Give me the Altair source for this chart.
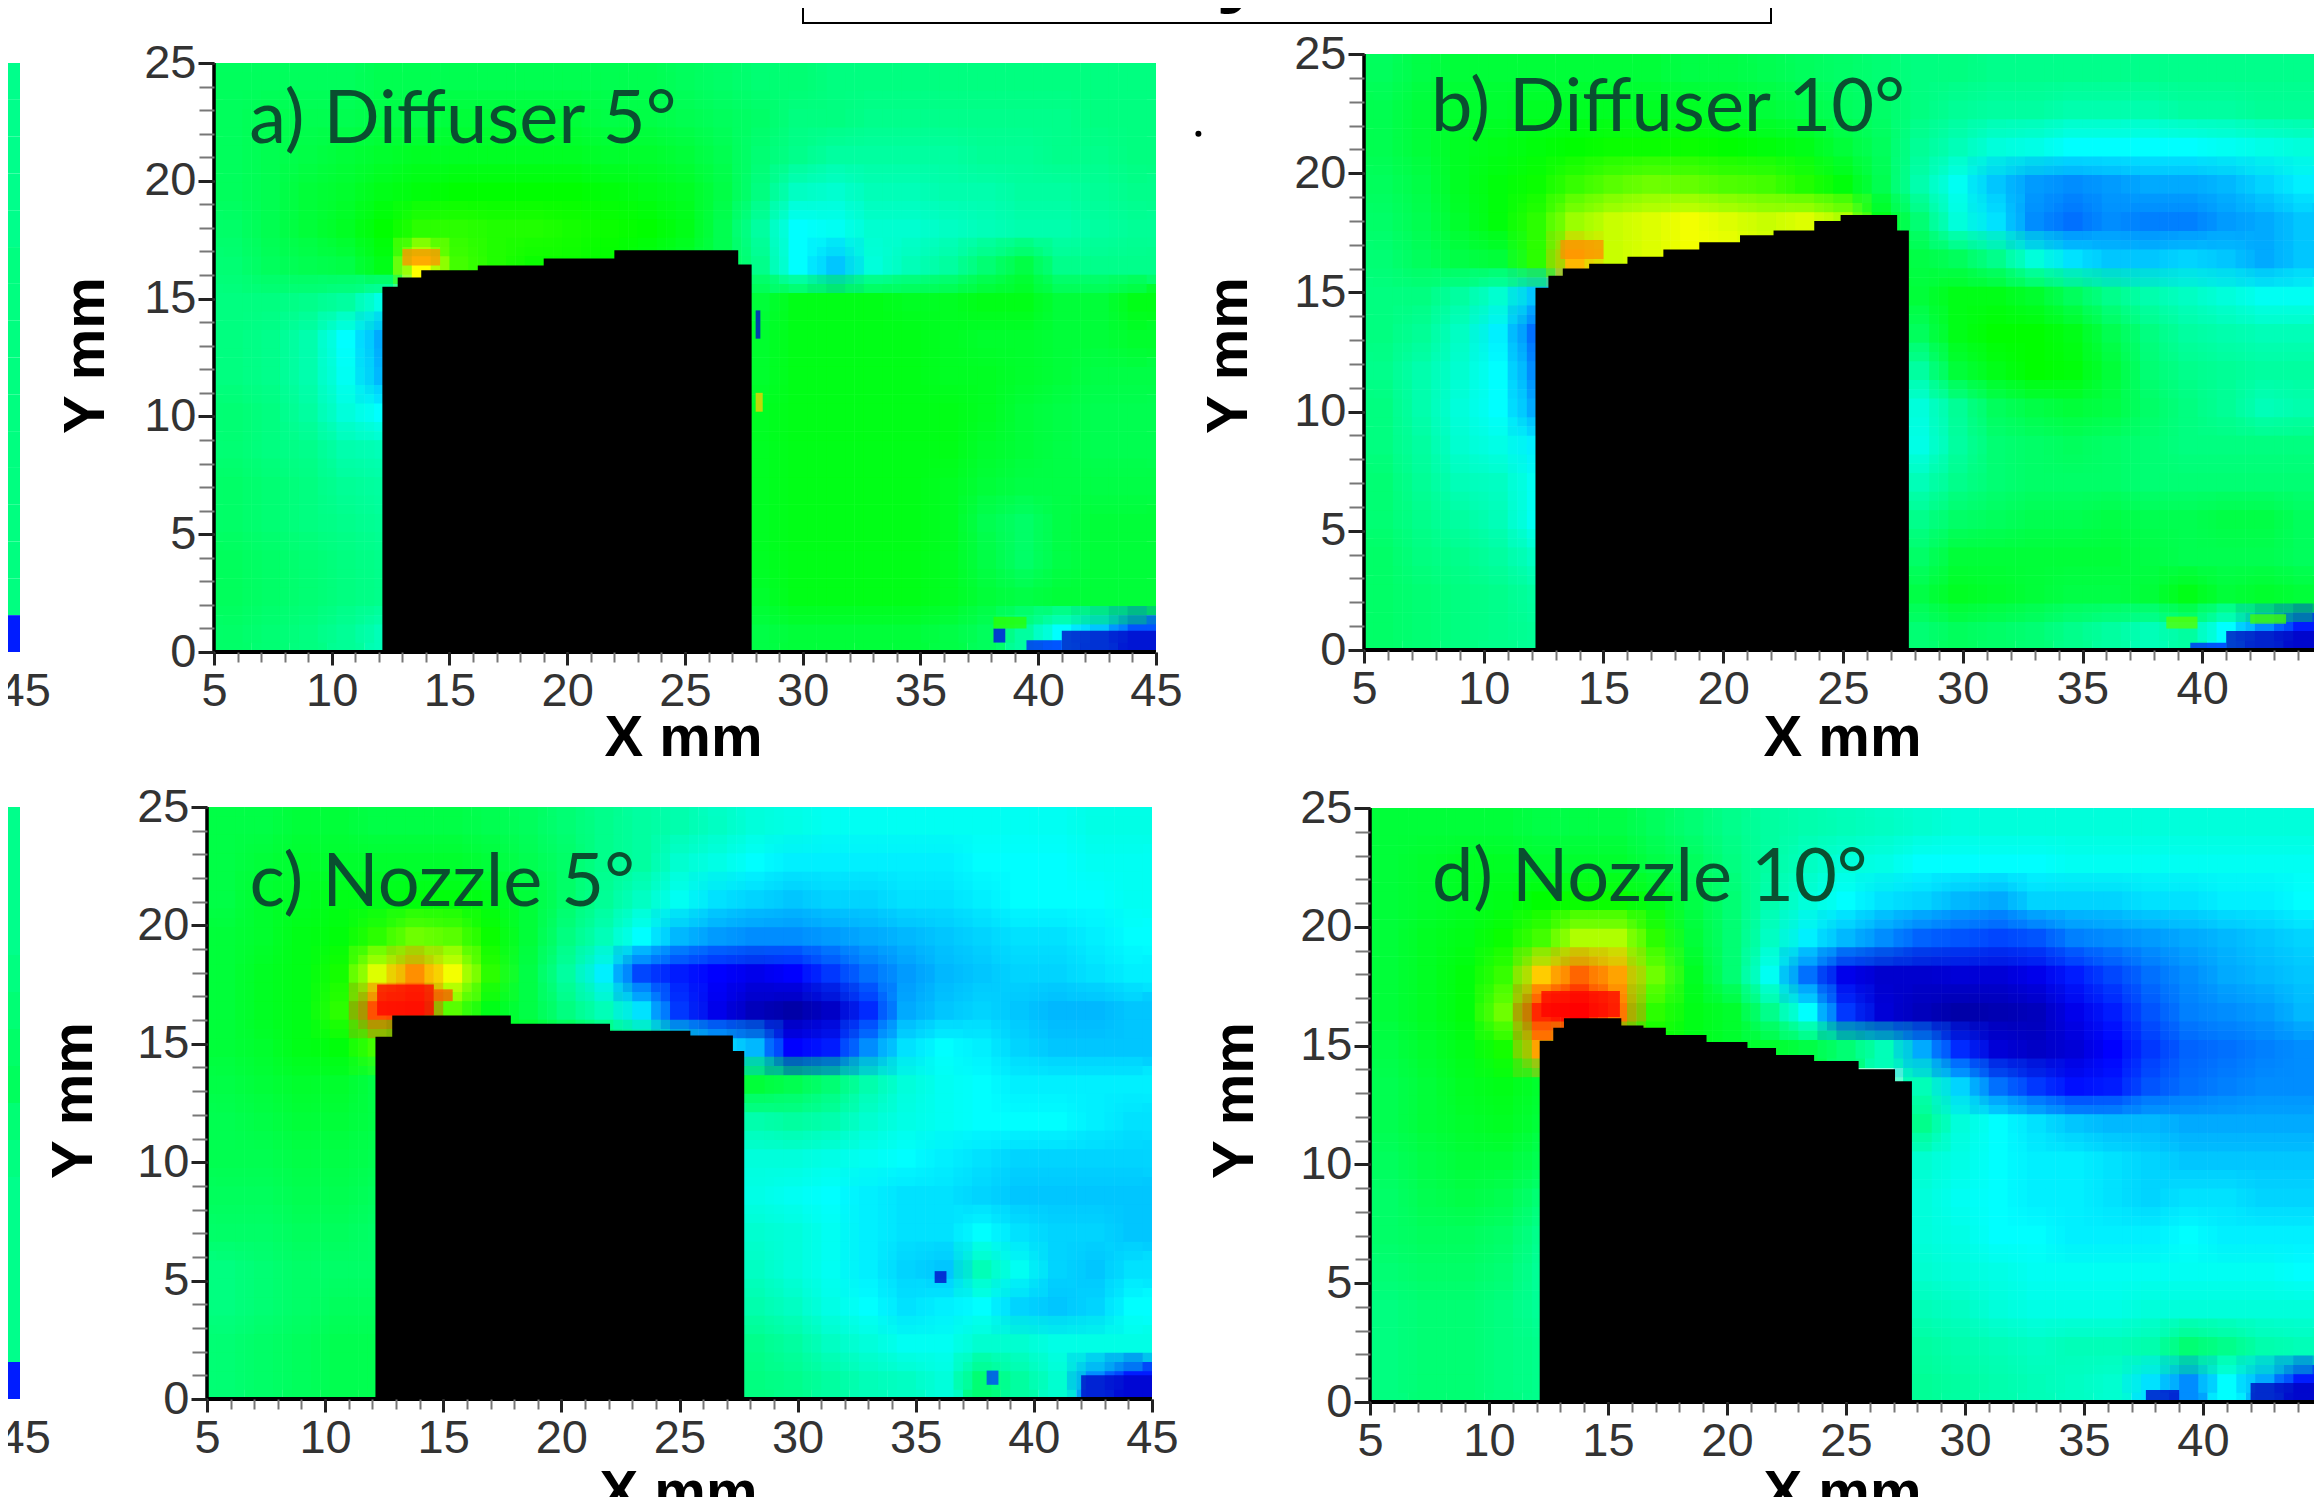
import altair as alt
import pandas as pd

W, H = 2306, 1489
STEP_X, STEP_Y = 1.6, 25 / 16
X_MAJOR = list(range(5, 46, 5))
X_MINOR = list(range(5, 46))
Y_MAJOR = list(range(0, 26, 5))
Y_MINOR = list(range(0, 26))
STOPS = [0, 12, 30, 52, 75, 100]
COLORS = ["#00008c", "#0000ff", "#00ffff", "#00ff00", "#ffff00", "#ff0000"]
B9 = [None] * 9
B5 = [None] * 5

GRID_A = [
 [44,44,44,44,45,45,45,45,45,45,45,45,44,43,42,42,41,41,41,41,41,41,41,41,41],
 [44,45,45,45,46,46,47,47,47,47,46,46,45,44,43,41,41,40,40,40,40,40,40,41,41],
 [44,45,46,47,48,49,49,49,49,49,48,48,47,45,42,40,38,38,38,38,39,39,40,40,41],
 [44,45,47,48,50,51,52,52,52,52,51,50,49,46,41,35,34,36,36,37,37,38,38,39,40],
 [43,45,47,49,52,56,56,55,55,54,53,52,50,45,38,30,31,34,34,35,36,37,37,38,39],
 [42,44,45,46,50,75,58,55,53,53,52,50,48,45,40,30,26,33,36,38,42,46,40,40,40],
 [41,41,40,38,32]+B9+[47,50,50,50,49,49,50,50,47,47,50],
 [41,40,37,30,24]+B9+[48,50,50,50,50,49,48,48,47,47,48],
 [41,40,37,31,25]+B9+[48,50,50,50,50,49,49,48,47,46,46],
 [42,41,38,33,30]+B9+[49,50,50,50,50,50,49,47,46,45,45],
 [42,41,40,37,36]+B9+[49,50,50,50,50,50,48,47,46,45,45],
 [43,42,41,39,38]+B9+[49,50,50,50,50,49,47,46,46,46,46],
 [43,42,41,40,39]+B9+[49,50,50,50,50,49,45,43,46,47,47],
 [44,43,42,41,40]+B9+[49,50,50,50,50,49,46,43,46,47,47],
 [44,43,42,41,40]+B9+[48,50,50,50,50,49,47,46,47,47,47],
 [43,42,41,39,36]+B9+[46,47,47,47,47,46,44,38,30,26,18],
]
GRID_B = [
 [44,46,47,47,47,47,47,47,46,46,45,44,43,42,41,41,40,40,40,40,40,40,40,40,40],
 [45,47,48,48,49,49,49,49,49,48,47,46,44,43,41,39,38,38,37,37,37,38,38,39,39],
 [45,47,49,50,51,52,53,53,53,52,51,50,47,44,39,36,33,32,30,30,30,30,31,32,33],
 [44,46,49,51,53,57,60,62,61,59,58,55,51,45,37,31,26,23,22,23,24,24,25,27,29],
 [43,45,48,51,56,66,70,72,74,72,70,72,68,50,42,33,28,22,20,22,21,21,23,24,26],
 [42,44,46,47,56,82,70,72,74,74,72,70,62,50,46,44,40,33,28,26,26,27,26,24,26],
 [41,41,38,34,26]+B9+[47,50,50,48,44,40,37,35,33,31,31],
 [41,39,35,29,20]+B9+[44,50,52,52,50,45,41,38,37,36,36],
 [40,37,34,30,22]+B9+[38,47,50,52,51,47,42,40,39,38,38],
 [41,37,33,30,24]+B9+[33,39,44,46,47,46,43,41,39,36,37],
 [41,38,34,32,29]+B9+[32,38,42,43,44,43,42,41,41,41,41],
 [42,39,36,35,31]+B9+[36,40,42,43,43,43,42,42,42,42,42],
 [42,40,38,36,31]+B9+[40,43,44,45,45,46,45,45,46,46,44],
 [43,41,40,38,35]+B9+[43,47,47,47,47,47,46,45,45,45,44],
 [43,42,41,40,38]+B9+[46,49,48,47,46,46,47,50,47,48,47],
 [43,42,41,40,39]+B9+[42,44,43,42,40,38,36,38,30,22,14],
]
GRID_C = [
 [46,46,47,47,46,46,46,45,44,42,40,38,37,35,33,32,31,31,31,31,31,31,31,32,32],
 [46,47,48,48,48,48,48,47,45,43,40,38,34,32,30,29,29,29,29,29,30,30,30,31,31],
 [46,48,49,50,50,51,51,50,47,43,39,35,31,28,27,26,27,27,28,28,29,30,30,30,31],
 [47,48,50,51,56,62,60,53,47,41,36,30,25,23,22,22,23,24,25,26,27,28,28,29,30],
 [47,49,50,54,72,86,74,56,46,38,29,17,14,12,10,12,16,20,23,25,26,27,27,28,29],
 [47,49,50,56,92,94,60,50,46,41,36,28,16,10,5,3,6,15,24,26,27,26,25,25,26],
 [47,48,50,51,58,52,52,50,50,48,45,40,34,28,25,12,14,22,28,30,29,27,26,26,26],
 [46,47,48,48,46]+B9+[47,45,42,37,33,31,30,29,29,29,29],
 [45,46,47,47,46]+B9+[37,38,37,34,32,31,30,30,30,29,28],
 [45,45,46,46,45]+B9+[33,33,32,31,30,29,28,27,27,27,27],
 [44,44,45,45,44]+B9+[32,31,30,29,28,28,27,26,26,26,26],
 [43,43,44,44,43]+B9+[34,33,31,29,28,28,30,28,27,27,26],
 [41,42,43,43,43]+B9+[35,33,31,29,27,26,36,31,27,26,28],
 [41,42,43,44,44]+B9+[37,35,32,30,28,29,30,27,26,27,30],
 [42,43,44,45,45]+B9+[40,38,35,33,31,31,34,34,32,32,32],
 [42,43,44,45,45]+B9+[41,40,38,36,35,33,42,38,34,22,14],
]
GRID_D = [
 [47,47,47,47,46,46,46,44,42,40,38,37,36,35,34,33,33,33,33,33,33,33,33,33,33],
 [47,48,49,49,48,48,48,46,44,41,38,35,33,32,30,30,30,30,31,31,31,31,31,31,31],
 [47,48,49,50,52,53,53,50,46,42,37,33,30,28,27,25,24,27,27,27,28,28,29,29,30],
 [47,49,50,53,58,68,68,56,47,42,35,29,25,22,19,18,17,18,21,22,23,24,25,26,27],
 [47,49,51,57,80,90,84,62,49,42,31,20,10,7,7,8,8,10,14,17,20,22,24,25,26],
 [47,49,51,62,96,100,88,56,50,48,40,30,16,8,5,3,4,5,10,14,18,21,22,23,25],
 [46,48,50,54,84,70,56,52,50,48,48,46,42,36,24,15,8,6,8,12,16,19,20,21,22],
 [45,47,49,50,48]+B9+[36,27,20,16,13,14,18,20,21,22,22],
 [45,47,48,49,47]+B9+[40,33,30,28,26,25,25,24,24,24,24],
 [44,46,47,47,45]+B9+[34,32,30,29,29,28,27,26,26,26,26],
 [43,45,46,45,42]+B9+[33,31,30,29,29,28,27,28,28,27,27],
 [43,44,44,43,40]+B9+[33,32,30,30,29,29,29,30,29,29,29],
 [42,43,43,42,39]+B9+[34,33,32,31,31,31,31,31,31,31,30],
 [41,42,42,41,39]+B9+[36,35,33,32,32,32,33,33,33,33,33],
 [41,42,42,41,40]+B9+[38,37,36,35,36,36,37,42,40,37,36],
 [41,42,42,41,40]+B9+[39,38,37,36,35,34,28,22,30,24,14],
]
STRIP_TOP = [40, 40, 40, 40, 40, 41, 41, 41, 41, 41, 41, 41, 41, 41, 41, 14]
STRIP_BOTTOM = [40, 40, 40, 40, 41, 42, 43, 44, 42, 41, 40, 40, 40, 40, 40, 14]

# body outline: step edges along x, then height of each step
BODY_A_X = [12.15, 12.8, 13.8, 16.2, 19.0, 22.0, 27.2, 27.83]
BODY_A_Y = [15.5, 15.9, 16.2, 16.4, 16.7, 17.05, 16.45]
BODY_B_X = [12.16, 12.7, 13.3, 14.4, 16.0, 17.5, 19.0, 20.7, 22.1, 23.8, 24.9, 27.2, 27.75]
BODY_B_Y = [15.2, 15.7, 16.0, 16.2, 16.5, 16.8, 17.1, 17.4, 17.6, 18.0, 18.25, 17.6]
BODY_C_X = [12.13, 12.84, 17.8, 22.0, 25.4, 27.2, 27.74]
BODY_C_Y = [15.3, 16.2, 15.85, 15.55, 15.35, 14.7]
BODY_D_X = [12.13, 12.7, 13.15, 15.5, 16.43, 17.37, 19.08, 20.8, 22.0, 23.6, 25.47, 27.0, 27.77]
BODY_D_Y = [15.2, 15.75, 16.15, 15.85, 15.75, 15.45, 15.15, 14.9, 14.6, 14.35, 14.0, 13.5]

# small details: x from, x to, y from, y to, value
SPOTS_A = [(13.0,14.6,16.4,17.1,86),(41,45,0,0.9,6),(39.5,41,0,0.5,14),(38.1,38.6,0.4,1.0,10),(38.1,39.5,1.0,1.5,56),(28,28.2,13.3,14.5,8),(28,28.3,10.2,11,80)]
SPOTS_B = [(13.2,15.0,16.4,17.2,86),(41,45,0,0.8,5),(39.5,41,0,0.3,14),(38.5,39.8,0.9,1.4,60),(42,43.5,1.1,1.5,58)]
SPOTS_C = [(12.2,14.6,16.2,17.5,100),(14.6,15.4,16.8,17.3,92),(35.8,36.3,4.9,5.4,6),(38,38.5,0.6,1.2,16),(42,45,0,1,6)]
SPOTS_D = [(12.2,15.5,16.2,17.3,100),(37.6,39,0,0.5,6),(42,45,0,0.8,5)]

TICK_COLOR = "#222222"
LABEL_COLOR = "#333333"
FONT = "Liberation Sans"
COLOR = alt.Color("v:Q", legend=None, scale=alt.Scale(domain=STOPS, range=COLORS, interpolate="rgb"))


def xscale(x5, x45):
    per = (x45 - x5) / 40
    d0 = 5 - (x5 - 8) / per
    return alt.Scale(domain=[d0, d0 + W / per], nice=False, zero=False)


def yscale(y0, y25):
    per = (y0 - y25) / 25
    lo = -(8 + H - y0) / per
    return alt.Scale(domain=[lo, lo + H / per], nice=False, zero=False)


def cells(grid, dx, dy):
    rows = []
    for r, row in enumerate(grid):
        for c, v in enumerate(row):
            if v is None:
                continue
            x0 = 5 + (c + dx) * STEP_X
            y1 = 25 - (r + dy) * STEP_Y
            rows.append(dict(x0=max(5, x0), x1=min(45, x0 + STEP_X),
                             y0=max(0, y1 - STEP_Y), y1=min(25, y1), v=v))
    return pd.DataFrame(rows)


def rect_layer(df, sx, sy, opacity=1.0, color=True):
    enc = dict(
        x=alt.X("x0:Q", scale=sx, axis=None), x2="x1:Q",
        y=alt.Y("y0:Q", scale=sy, axis=None), y2="y1:Q",
    )
    if color:
        enc["color"] = COLOR
    mark = alt.Chart(df).mark_rect(opacity=opacity) if color else alt.Chart(df).mark_rect(color="black")
    return mark.encode(**enc)


def field_layers(grid, sx, sy):
    out = [rect_layer(cells(grid, 0, 0), sx, sy)]
    for dx, dy, op in [(-.25, -.25, .5), (.25, -.25, .33), (-.25, .25, .25), (.25, .25, .2)]:
        out.append(rect_layer(cells(grid, dx, dy), sx, sy, op))
    return out


def panel(grid, body_x, body_y, spots, pos, label, label_pos, xtitle, ytitle):
    x5, x45, y0, y25 = pos
    sx, sy = xscale(x5, x45), yscale(y0, y25)
    layers = []
    spot_df = pd.DataFrame(spots, columns=["x0", "x1", "y0", "y1", "v"])
    layers.append(rect_layer(spot_df, sx, sy))
    for i, lay in enumerate(field_layers(grid, sx, sy)):
        layers.append(lay)
    layers.append(rect_layer(spot_df, sx, sy, 0.75))
    body = pd.DataFrame([dict(x0=body_x[i], x1=min(body_x[-1], body_x[i + 1] + .06), y0=0, y1=h) for i, h in enumerate(body_y)])
    layers.append(rect_layer(body, sx, sy, color=False))

    base = dict(orient="bottom", offset=y0 - 8 - H, domain=False, grid=False, zindex=1)
    base_y = dict(orient="left", offset=-(x5 - 8), domain=False, grid=False, zindex=1)
    minor_x = alt.Axis(values=X_MINOR, labels=False, title=None, tickSize=10, tickColor="#777777", tickWidth=2, **base)
    minor_y = alt.Axis(values=Y_MINOR, labels=False, title=None, tickSize=15, tickColor="#777777", tickWidth=2, **base_y)
    major_x = alt.Axis(values=X_MAJOR, format="d", tickSize=13, tickColor=TICK_COLOR, tickWidth=3,
                       labelFont=FONT, labelFontSize=47, labelColor=LABEL_COLOR, labelPadding=3,
                       labelOverlap=False, labelFlush=False, title="X mm", titleFont=FONT, titleFontSize=58,
                       titleFontWeight="bold", titleColor="black", titleAlign="center", titleBaseline="alphabetic",
                       titleX=xtitle[0] - 8, titleY=xtitle[1] - y0, **base)
    major_y = alt.Axis(values=Y_MAJOR, format="d", tickSize=16, tickColor=TICK_COLOR, tickWidth=3,
                       labelFont=FONT, labelFontSize=47, labelColor=LABEL_COLOR, labelPadding=2,
                       labelOverlap=False, labelFlush=False, title="Y mm", titleFont=FONT, titleFontSize=58,
                       titleFontWeight="bold", titleColor="black", titleAlign="center", titleBaseline="middle",
                       titleAngle=-90, titleX=ytitle[0] - x5, titleY=ytitle[1] - 8, **base_y)
    hline = pd.DataFrame({"x": [5], "x2": [45], "y": [0]})
    vline = pd.DataFrame({"x": [5], "y": [0], "y2": [25]})
    layers.append(alt.Chart(vline).mark_rule(color="black", strokeWidth=3.5).encode(
        x=alt.X("x:Q", scale=sx, axis=minor_x), y=alt.Y("y:Q", scale=sy, axis=minor_y), y2="y2:Q"))
    layers.append(alt.Chart(hline).mark_rule(color="black", strokeWidth=4).encode(
        x=alt.X("x:Q", scale=sx, axis=major_x), x2="x2:Q", y=alt.Y("y:Q", scale=sy, axis=major_y)))
    tdf = pd.DataFrame({"x": [label_pos[0]], "y": [label_pos[1]], "t": [label]})
    layers.append(alt.Chart(tdf).mark_text(font="Lato", fontSize=74, align="left", baseline="alphabetic",
                                           color="#0a4f30").encode(
        x=alt.X("x:Q", scale=sx, axis=None), y=alt.Y("y:Q", scale=sy, axis=None), text="t:N"))
    return layers


def strip(values, pos):
    x5, x45, y0, y25 = pos
    sx, sy = xscale(x5, x45), yscale(y0, y25)
    df = pd.DataFrame([dict(x0=44, x1=45, y1=25 - r * STEP_Y, y0=25 - (r + 1) * STEP_Y, v=v) for r, v in enumerate(values)])
    axis = alt.Axis(values=[45], format="d", orient="bottom", offset=y0 - 8 - H, domain=False, grid=False, ticks=False,
                    labelFont=FONT, labelFontSize=47, labelColor=LABEL_COLOR, labelPadding=16, labelAlign="left",
                    labelOffset=-22, title=None)
    return [alt.Chart(df).mark_rect().encode(x=alt.X("x0:Q", scale=sx, axis=axis), x2="x1:Q",
                                             y=alt.Y("y0:Q", scale=sy, axis=None), y2="y1:Q", color=COLOR)]


layers = []
layers += strip(STRIP_TOP, (-922, 20, 652, 63))
layers += strip(STRIP_BOTTOM, (-925, 20, 1399, 807))
layers += panel(GRID_A, BODY_A_X, BODY_A_Y, SPOTS_A, (214, 1156, 652, 63), "a) Diffuser 5°", (6.5, 21.6), (683, 755), (86, 355))
layers += panel(GRID_B, BODY_B_X, BODY_B_Y, SPOTS_B, (1364, 2322, 650, 54), "b) Diffuser 10°", (7.8, 21.75), (1842, 755), (1229, 355))
layers += panel(GRID_C, BODY_C_X, BODY_C_Y, SPOTS_C, (207, 1152, 1399, 807), "c) Nozzle 5°", (6.8, 20.8), (678, 1510), (74, 1100))
layers += panel(GRID_D, BODY_D_X, BODY_D_Y, SPOTS_D, (1370, 2322, 1402, 808), "d) Nozzle 10°", (7.6, 21.1), (1842, 1510), (1235, 1100))

# stray dot, frame of the clipped title box and the tail of its text
sa_x, sa_y = xscale(214, 1156), yscale(652, 63)
dot = pd.DataFrame({"x": [46.8], "y": [22.0]})
layers.append(alt.Chart(dot).mark_point(filled=True, color="black", size=36, opacity=1).encode(
    x=alt.X("x:Q", scale=sa_x, axis=None), y=alt.Y("y:Q", scale=sa_y, axis=None)))
layers.append(alt.Chart(pd.DataFrame({"a": [0]})).mark_rect(fillOpacity=0, stroke="black", strokeWidth=2).encode(
    x=alt.value(795), x2=alt.value(1763), y=alt.value(-20), y2=alt.value(15)))
layers.append(alt.Chart(pd.DataFrame({"t": ["y"]})).mark_text(font=FONT, fontWeight="bold", fontSize=90, align="center",
                                                               baseline="alphabetic", color="black").encode(
    x=alt.value(1233), y=alt.value(-13), text="t:N"))

chart = (
    alt.layer(*layers)
    .resolve_scale(x="independent", y="independent")
    .resolve_axis(x="independent", y="independent")
    .properties(width=W, height=H, padding=0, background="white",
                autosize=alt.AutoSizeParams(type="none"))
    .configure_view(stroke=None)
)
chart.save("out.html", embed_options={"renderer": "svg", "actions": False})
